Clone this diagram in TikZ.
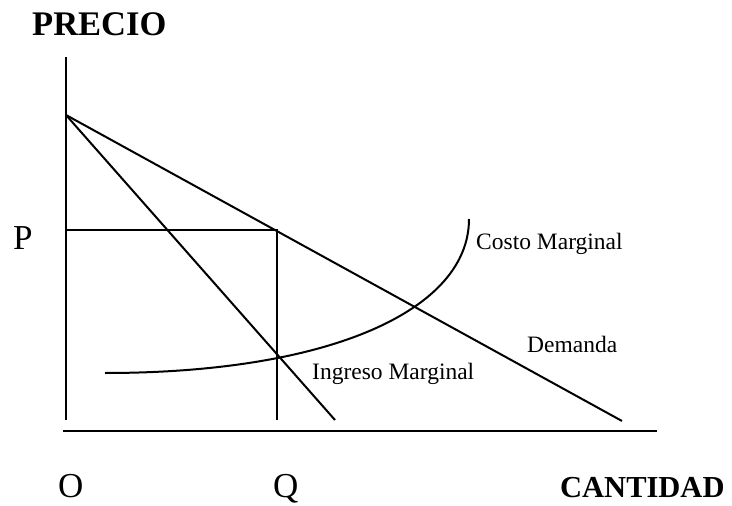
\documentclass[tikz,border=0pt]{standalone}
\usepackage{fontspec}
\setmainfont{Liberation Serif}
\begin{document}
\begin{tikzpicture}[x=1pt,y=-1pt,
  ln/.style={line width=2pt,black},
  lbl/.style={inner sep=0pt,anchor=base west,font=\fontsize{23.5}{28}\selectfont},
  big/.style={inner sep=0pt,anchor=base west,font=\fontsize{35}{40}\selectfont},
  bigb/.style={inner sep=0pt,anchor=base west,font=\fontsize{34.5}{40}\selectfont\bfseries}]
\useasboundingbox (0,0) rectangle (732,506);
% key points
\coordinate (ytop) at (66,57);
\coordinate (ybot) at (66,420);
\coordinate (xl) at (63,431);
\coordinate (xr) at (657,431);
\coordinate (A) at (66,115);
\coordinate (Dend) at (622,421);
\coordinate (IMend) at (335,420);
\coordinate (E) at (277,230);
\coordinate (Pp) at (66,230);
\coordinate (Qb) at (277,420);
\coordinate (MCs) at (105,373);
\coordinate (MCe) at (469,219);
% axes
\draw[ln] (ytop) -- (ybot);
\draw[ln,line width=2.5pt] (xl) -- (xr);
% demand and marginal revenue
\draw[ln] (A) -- (Dend);
\draw[ln] (A) -- (IMend);
% P and Q guides
\draw[ln] (Pp) -- (E) -- (Qb);
% marginal cost
\draw[ln] (MCs) .. controls (330,373) and (469,310) .. (MCe);
% labels
\node[bigb] (precio) at (32,35) {PRECIO};
\node[big] (p) at (13,249) {P};
\node[big] (o) at (58,497) {O};
\node[big] (q) at (273,497) {Q};
\node[inner sep=0pt,anchor=base west,font=\fontsize{30.5}{36}\selectfont\bfseries] (cant) at (560,497) {CANTIDAD};
\node[lbl] (cm) at (476,249) {Costo Marginal};
\node[lbl] (dem) at (527,352) {Demanda};
\node[lbl] (im) at (312,379) {Ingreso Marginal};
\end{tikzpicture}
\end{document}
